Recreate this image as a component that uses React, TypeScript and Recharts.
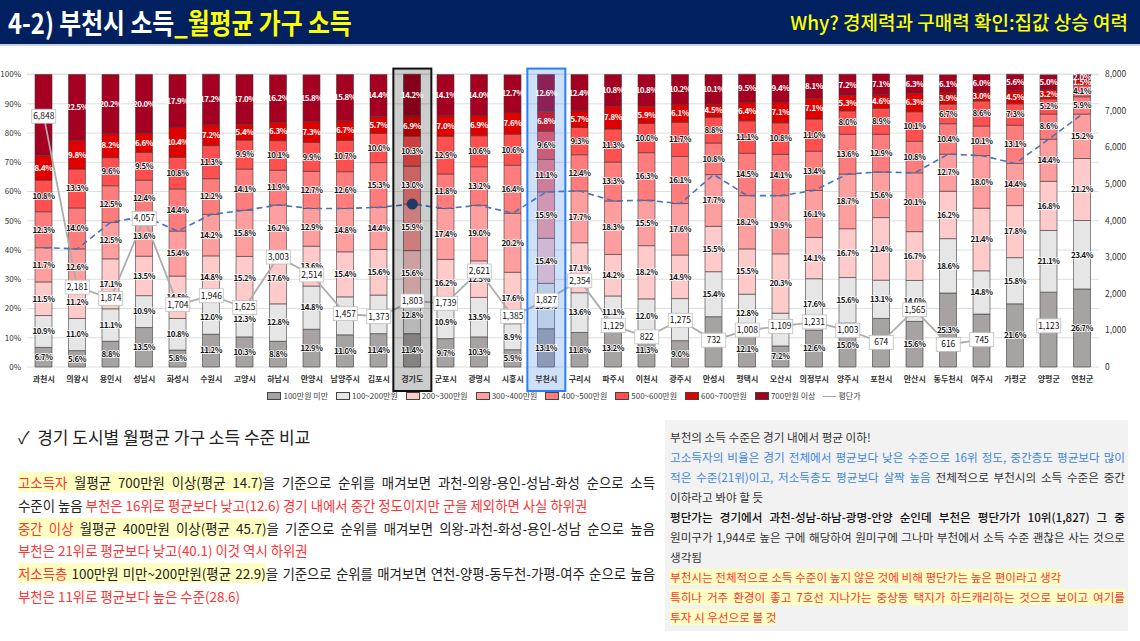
import React from "react";
import { ComposedChart, Bar, Line, XAxis, YAxis, CartesianGrid, LabelList } from "recharts";

// 경기 시군별 월평균 가구 소득 구간 비율(%) — 아래에서 위로 쌓임
const cities = [
  "과천시", "의왕시", "용인시", "성남시", "화성시", "수원시", "고양시", "하남시", "안양시", "남양주시", "김포시",
  "경기도", "군포시", "광명시", "시흥시", "부천시", "구리시", "파주시", "이천시", "광주시", "안성시", "평택시",
  "오산시", "의정부시", "양주시", "포천시", "안산시", "동두천시", "여주시", "가평군", "양평군", "연천군",
];

const under100 = [6.7, 5.6, 8.8, 13.5, 5.8, 11.2, 10.3, 8.8, 12.9, 11.0, 11.4, 11.4, 9.7, 10.3, 5.9, 13.1, 11.8, 13.2, 11.3, 9.0, 17.2, 12.1, 7.2, 12.6, 15.0, 16.6, 15.6, 25.3, 18.1, 21.6, 25.6, 26.7];
const from100 = [10.9, 11.0, 11.1, 10.9, 10.8, 12.0, 12.3, 12.8, 14.8, 13.0, 13.2, 12.8, 10.9, 13.5, 8.9, 15.5, 13.6, 11.1, 12.0, 14.4, 15.4, 12.8, 11.2, 17.6, 15.6, 13.1, 14.0, 18.6, 14.8, 15.8, 21.1, 23.4];
const from200 = [11.5, 11.2, 17.1, 13.5, 14.5, 14.8, 15.2, 17.6, 13.6, 15.4, 15.6, 15.6, 16.2, 12.5, 17.6, 15.4, 17.1, 14.2, 18.2, 14.9, 15.5, 15.5, 20.3, 14.1, 16.7, 21.4, 16.7, 16.2, 21.4, 17.8, 16.8, 21.2];
const from300 = [11.7, 12.6, 12.5, 13.6, 15.4, 14.2, 15.8, 16.2, 12.9, 14.8, 14.4, 15.9, 17.4, 19.0, 20.2, 15.9, 17.7, 18.3, 15.5, 17.6, 17.7, 18.2, 19.9, 16.1, 18.7, 15.6, 20.1, 12.7, 18.0, 14.4, 14.4, 15.2];
const from400 = [12.3, 14.0, 12.5, 12.4, 14.4, 12.2, 14.1, 11.9, 12.7, 12.6, 15.3, 13.0, 11.8, 13.2, 16.4, 11.1, 12.4, 13.3, 16.3, 16.1, 10.8, 14.5, 14.1, 13.4, 13.6, 12.9, 10.8, 10.4, 10.1, 13.1, 8.6, 5.9];
const from500 = [10.8, 13.3, 9.6, 9.5, 10.8, 11.3, 9.9, 10.1, 9.9, 10.7, 10.0, 10.3, 12.9, 10.6, 10.6, 9.6, 9.3, 11.3, 10.0, 11.7, 8.8, 11.1, 10.8, 11.0, 8.0, 8.9, 10.1, 6.7, 8.6, 7.3, 5.2, 4.1];
const from600 = [8.4, 9.8, 8.2, 6.6, 10.4, 7.2, 5.4, 6.3, 7.3, 6.7, 5.7, 6.9, 7.0, 6.9, 7.6, 6.8, 5.7, 7.8, 5.9, 6.1, 4.5, 6.4, 7.1, 7.1, 5.3, 4.6, 6.3, 3.9, 3.0, 4.5, 3.2, 1.5];
const over700 = [27.7, 22.5, 20.2, 20.0, 17.9, 17.2, 17.0, 16.2, 15.8, 15.8, 14.4, 14.2, 14.1, 14.0, 12.7, 12.6, 12.4, 10.8, 10.8, 10.2, 10.1, 9.5, 9.4, 8.1, 7.2, 7.1, 6.3, 6.1, 6.0, 5.6, 5.0, 2.0];

// 평단가(만원, 오른쪽 축) — 가평·연천은 표시 없음
const pricePerPyeong = [6848, 2181, 1874, 4057, 1704, 1946, 1625, 3003, 2514, 1457, 1373, 1803, 1739, 2621, 1385, 1827, 2354, 1129, 822, 1275, 732, 1008, 1109, 1231, 1003, 674, 1565, 616, 745, null, 1123, null];

// 400만원 미만 누적 비율(파란 점선)
const below400 = [40.8, 40.4, 49.5, 51.5, 46.5, 52.2, 53.6, 55.4, 54.2, 54.2, 54.6, 55.7, 54.2, 55.3, 52.6, 59.9, 60.2, 56.8, 57.0, 55.9, 65.8, 58.6, 58.6, 60.4, 66.0, 66.7, 66.4, 72.8, 72.3, 69.6, 77.9, 86.5];

const highlighted = ["경기도", "부천시"];

const leftTicks = [0, 10, 20, 30, 40, 50, 60, 70, 80, 90, 100];
const rightTicks = [0, 1000, 2000, 3000, 4000, 5000, 6000, 7000, 8000];

const seriesValues = [under100, from100, from200, from300, from400, from500, from600, over700];
const series = [
  { key: "s0", name: "100만원 미만", color: "#a8a3a3", light: false },
  { key: "s1", name: "100~200만원", color: "#e6e6e6", light: false },
  { key: "s2", name: "200~300만원", color: "#ffcaca", light: false },
  { key: "s3", name: "300~400만원", color: "#ff9e9e", light: false },
  { key: "s4", name: "400~500만원", color: "#ff7c7c", light: false },
  { key: "s5", name: "500~600만원", color: "#ff4f4f", light: false },
  { key: "s6", name: "600~700만원", color: "#e00000", light: true },
  { key: "s7", name: "700만원 이상", color: "#a50021", light: true },
];

const data = cities.map((name, i) => {
  const row: Record<string, any> = { name, price: pricePerPyeong[i], low: below400[i], hl: highlighted.includes(name) ? 100 : 0 };
  seriesValues.forEach((arr, k) => (row[`s${k}`] = arr[i]));
  return row;
});

const FONT = "'Noto Sans CJK KR', 'Noto Sans', sans-serif";

function pick(props: any, k: string) {
  return props[k] ?? props.viewBox?.[k];
}

const segmentLabel = (light: boolean) => (props: any) => {
  const x = pick(props, "x"), y = pick(props, "y"), w = pick(props, "width"), h = pick(props, "height");
  const v = props.value;
  if (v == null || x == null) return null;
  return (
    <text
      x={x + w / 2}
      y={y + h / 2}
      dy="0.35em"
      textAnchor="middle"
      fontSize={8}
      fontWeight={700}
      letterSpacing={-0.5}
      fill={light ? "#ffffff" : "#111111"}
      stroke={light ? "none" : "#ffffff"}
      strokeWidth={1.6}
      paintOrder="stroke"
      fontFamily={FONT}
    >
      {Number(v).toFixed(1)}%
    </text>
  );
};

const priceLabel = (props: any) => {
  const x = pick(props, "x"), y = pick(props, "y");
  const v = props.value;
  if (v == null || x == null) return null;
  const t = Number(v).toLocaleString("en-US");
  return (
    <g>
      <rect x={x - 12} y={y - 7} width={24} height={14} fill="#ffffff" stroke="#bdbdbd" strokeWidth={0.8} />
      <text x={x} y={y} dy="0.35em" textAnchor="middle" fontSize={8.5} fill="#111" fontFamily={FONT}>{t}</text>
    </g>
  );
};

const HighlightShape = (props: any) => {
  const { x, y, width, height, payload } = props;
  if (!payload || !payload.hl) return null;
  const cx = x + width / 2;
  const isGyeonggi = payload.name === "경기도";
  return (
    <rect
      x={cx - 19}
      y={y - 6}
      width={38}
      height={height + 30}
      fill={isGyeonggi ? "rgba(0,0,0,0.2)" : "rgba(63,131,239,0.25)"}
      stroke={isGyeonggi ? "#111111" : "#2a7fff"}
      strokeWidth={2}
    />
  );
};

const LeftTick = (props: any) => {
  const { x, y, payload } = props;
  return (
    <text x={x} y={y} dy="0.35em" textAnchor="end" fontSize={8} fill="#333" fontFamily={FONT}>{payload.value}%</text>
  );
};

const hl = { background: "#ffffc2" };
const red = { color: "#ff3333" };
const blue = { color: "#3d85e0" };
const just: React.CSSProperties = { textAlign: "justify", textAlignLast: "justify" };

export default function App() {
  return (
    <div style={{ position: "relative", width: 1140, height: 641, background: "#fff", fontFamily: FONT, overflow: "hidden" }}>
      <style>{"body{margin:0}"}</style>

      <div style={{ position: "absolute", left: 0, top: 0, width: 1140, height: 44, background: "#002060", borderBottom: "2px solid #c7d0e4" }}>
        <div style={{ position: "absolute", left: 8, top: 2, fontSize: 28, fontWeight: 700, color: "#fff", lineHeight: "40px", whiteSpace: "nowrap", transform: "scaleX(0.85)", transformOrigin: "left center" }}>
          4-2) 부천시 소득<span style={{ color: "#ffff00" }}>_월평균 가구 소득</span>
        </div>
        <div style={{ position: "absolute", right: 12, top: 8, fontSize: 19, fontWeight: 500, color: "#ffff00", lineHeight: "28px", whiteSpace: "nowrap", transform: "scaleX(1)", transformOrigin: "right center" }}>
          Why? 경제력과 구매력 확인:집값 상승 여력
        </div>
      </div>

      <div style={{ position: "absolute", left: 0, top: 0 }}>
        <ComposedChart width={1140} height={400} data={data} margin={{ top: 74, right: 0, bottom: 3, left: 0 }} barCategoryGap="10%" style={{ fontFamily: FONT }}>
          <CartesianGrid yAxisId="left" vertical={false} stroke="#dedede" />
          <XAxis dataKey="name" tickLine={false} axisLine={false} interval={0} height={30} tickMargin={3} tick={{ fontSize: 8, fill: "#333", fontWeight: 700 }} />
          <YAxis yAxisId="left" domain={[0, 100]} ticks={leftTicks} width={27} tickLine={false} axisLine={false} tickMargin={0} tick={<LeftTick />} />
          <YAxis yAxisId="right" orientation="right" domain={[0, 8000]} ticks={rightTicks} width={41} tickLine={false} axisLine={false} tickMargin={0} tickFormatter={(v) => Number(v).toLocaleString("en-US")} tick={{ fontSize: 8.5, fill: "#333", textAnchor: "start" }} />
          <XAxis xAxisId="hl" dataKey="name" hide />
          {series.map((s) => (
            <Bar key={s.key} dataKey={s.key} name={s.name} stackId="a" yAxisId="left" fill={s.color} stroke="#3a3a3a" strokeWidth={0.6} barSize={17} isAnimationActive={false}>
              <LabelList dataKey={s.key} content={segmentLabel(s.light)} />
            </Bar>
          ))}
          <Line dataKey="price" name="평단가" yAxisId="right" stroke="#acacac" strokeWidth={1.8} dot={false} activeDot={false} connectNulls={false} isAnimationActive={false}>
            <LabelList dataKey="price" content={priceLabel} />
          </Line>
          <Line
            dataKey="low"
            yAxisId="left"
            stroke="#4a72b8"
            strokeWidth={1.6}
            strokeDasharray="6 4"
            dot={(p: any) => (p.payload && p.payload.name === "경기도" ? <circle key="dot" cx={p.cx} cy={p.cy} r={5.5} fill="#203864" /> : <g key={`d${p.index}`} />)}
            activeDot={false}
            isAnimationActive={false}
          />
          <Bar dataKey="hl" xAxisId="hl" yAxisId="left" shape={HighlightShape} isAnimationActive={false} {...({ zIndex: 450 } as any)} />
        </ComposedChart>
      </div>

      <div style={{ position: "absolute", left: 0, top: 390, width: 1128, display: "flex", justifyContent: "center", gap: 8, fontSize: 8, color: "#404040", lineHeight: "12px", whiteSpace: "nowrap" }}>
        {series.map((s) => (
          <span key={s.key} style={{ display: "inline-flex", alignItems: "center" }}>
            <span style={{ display: "inline-block", width: 12, height: 6, background: s.color, border: "0.8px solid #444", marginRight: 2 }} />
            {s.name}
          </span>
        ))}
        <span style={{ display: "inline-flex", alignItems: "center" }}>
          <span style={{ display: "inline-block", width: 13, height: 0, borderTop: "1.5px solid #a6a6a6", marginRight: 2 }} />
          평단가
        </span>
      </div>

      <div style={{ position: "absolute", left: 18, top: 426, fontSize: 17, color: "#222", lineHeight: "22px", whiteSpace: "nowrap" }}>
        ✓&nbsp; 경기 도시별 월평균 가구 소득 수준 비교
      </div>

      <div style={{ position: "absolute", left: 18, top: 471, width: 637, fontSize: 13.4, lineHeight: "22.8px", color: "#222" }}>
        <div style={just}>
          <span style={{ ...hl, ...red }}>고소득자</span><span style={hl}> 월평균 700만원 이상(평균 14.7)</span>을 기준으로 순위를 매겨보면 과천-의왕-용인-성남-화성 순으로 소득
        </div>
        <div>
          수준이 높음 <span style={red}>부천은 16위로 평균보다 낮고(12.6) 경기 내에서 중간 정도이지만 군을 제외하면 사실 하위권</span>
        </div>
        <div style={just}>
          <span style={{ ...hl, ...red }}>중간 이상</span><span style={hl}> 월평균 400만원 이상(평균 45.7)</span>을 기준으로 순위를 매겨보면 의왕-과천-화성-용인-성남 순으로 높음
        </div>
        <div style={red}>부천은 21위로 평균보다 낮고(40.1) 이것 역시 하위권</div>
        <div style={just}>
          <span style={{ ...hl, ...red }}>저소득층</span><span style={hl}> 100만원 미만~200만원(평균 22.9)</span>을 기준으로 순위를 매겨보면 연천-양평-동두천-가평-여주 순으로 높음
        </div>
        <div style={red}>부천은 11위로 평균보다 높은 수준(28.6)</div>
      </div>

      <div style={{ position: "absolute", left: 665, top: 420, width: 463, height: 211, background: "#f2f2f2" }} />
      <div style={{ position: "absolute", left: 670, top: 427, width: 455, fontSize: 11.6, lineHeight: "20px", color: "#333" }}>
        <div>부천의 소득 수준은 경기 내에서 평균 이하!</div>
        <div style={{ ...just, ...blue }}>고소득자의 비율은 경기 전체에서 평균보다 낮은 수준으로 16위 정도, 중간층도 평균보다 많이</div>
        <div style={just}>
          <span style={blue}>적은 수준(21위)이고, 저소득층도 평균보다 살짝 높음</span> 전체적으로 부천시의 소득 수준은 중간
        </div>
        <div>이하라고 봐야 할 듯</div>
        <div style={{ ...just, color: "#111", fontWeight: 500 }}>평단가는 경기에서 과천-성남-하남-광명-안양 순인데 부천은 평단가가 10위(1,827) 그 중</div>
        <div style={just}>원미구가 1,944로 높은 구에 해당하여 원미구에 그나마 부천에서 소득 수준 괜찮은 사는 것으로</div>
        <div>생각됨</div>
        <div><span style={{ ...hl, ...red }}>부천시는 전체적으로 소득 수준이 높지 않은 것에 비해 평단가는 높은 편이라고 생각</span></div>
        <div style={{ ...just, ...red }}><span style={hl}>특히나 거주 환경이 좋고 7호선 지나가는 중상동 택지가 하드캐리하는 것으로 보이고 여기를</span></div>
        <div><span style={{ ...hl, ...red }}>투자 시 우선으로 볼 것</span></div>
      </div>
    </div>
  );
}
